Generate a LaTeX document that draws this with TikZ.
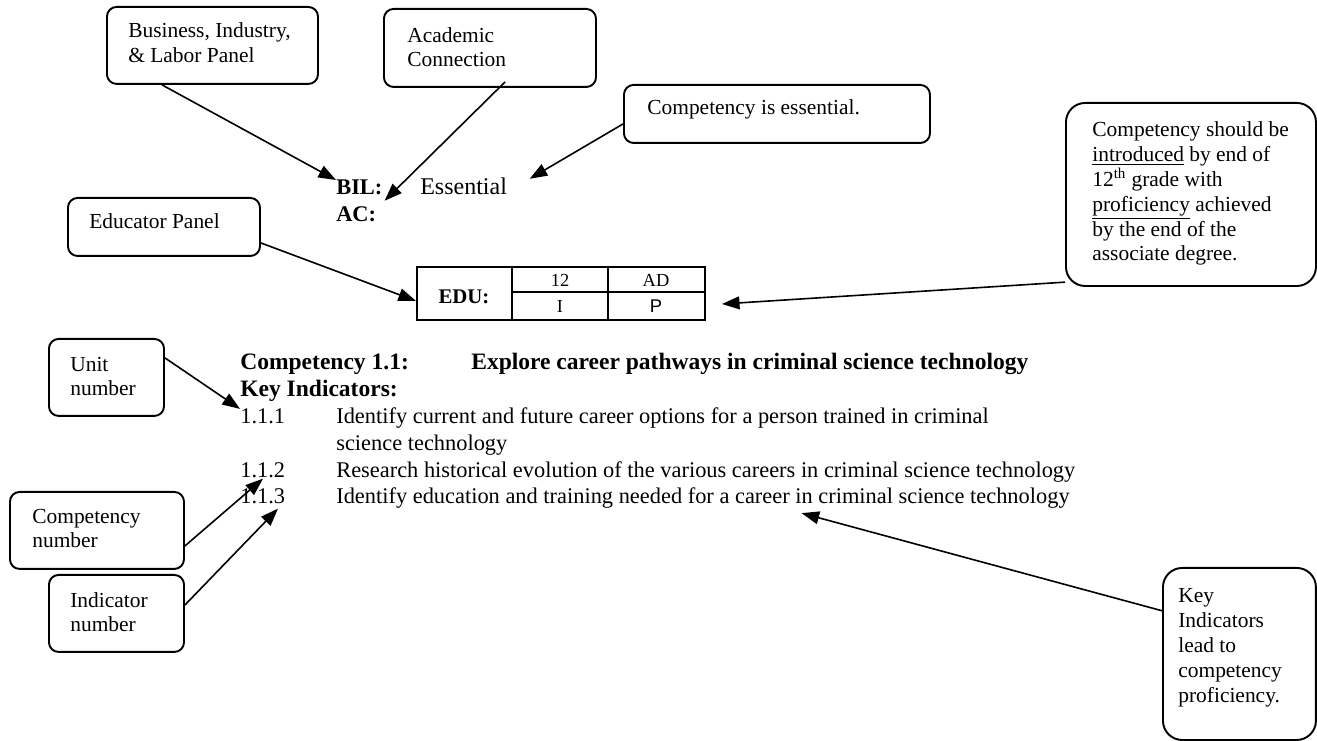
\documentclass[tikz,border=0pt]{standalone}
\usepackage{fontspec}
\setmainfont{Liberation Serif}
\newfontfamily\arialfont{Liberation Sans}
\usetikzlibrary{arrows.meta}

\tikzset{
  panel/.style={draw, line width=1.2pt, rounded corners=6pt, anchor=north west, inner sep=0pt},
  bigpanel/.style={panel, rounded corners=12pt},
  note/.style={anchor=base west, inner sep=0pt, align=left, font=\fontsize{13.4}{15.5}\selectfont},
  body/.style={anchor=base west, inner sep=0pt, font=\fontsize{14}{17}\selectfont},
  head/.style={body, font=\fontsize{14.7}{17}\selectfont\bfseries},
  rating/.style={body, font=\fontsize{14}{17}\selectfont\bfseries},
  cell/.style={anchor=base, inner sep=0pt, font=\fontsize{11.5}{13}\selectfont},
  pointer/.style={line width=1pt, -{Triangle[length=11pt, width=8pt]}},
}

\begin{document}
\begin{tikzpicture}[x=0.625pt, y=-0.625pt]
\useasboundingbox (0,0) rectangle (1317,741);

% callout boxes (text anchored on its last line)
\node[panel, minimum width=131.9pt, minimum height=48.1pt] (bilbox) at (106,6) {};
\node[note, font=\fontsize{13.4}{16.2}\selectfont] (biltext) at (128,63) {Business, Industry,\\ \& Labor Panel};
\node[panel, minimum width=132.5pt, minimum height=48.75pt] (acbox) at (383,8) {};
\node[note] (actext) at (407,67) {Academic\\ Connection};
\node[panel, minimum width=191.25pt, minimum height=36.25pt] (essbox) at (623,84) {};
\node[note] (esstext) at (647,115) {Competency is essential.};
\node[panel, minimum width=120pt, minimum height=36.25pt] (edubox) at (67,197) {};
\node[note] (edutext) at (89,229) {Educator Panel};
\node[bigpanel, minimum width=156.25pt, minimum height=114.4pt] (gradebox) at (1065,102) {};
\node[note] (gradetext) at (1092,261) {Competency should be\\ \underline{introduced} by end of\\ 12\textsuperscript{th} grade with\\ \underline{proficiency} achieved\\ by the end of the\\ associate degree.};
\node[panel, minimum width=71.9pt, minimum height=48.1pt] (unitbox) at (48,338) {};
\node[note] (unittext) at (70,396) {Unit\\ number};
\node[panel, minimum width=108.75pt, minimum height=48.1pt] (compbox) at (9,491) {};
\node[note] (comptext) at (32,548) {Competency\\ number};
\node[panel, minimum width=84.4pt, minimum height=48.1pt] (indbox) at (48,574) {};
\node[note] (indtext) at (70,632) {Indicator\\ number};
\node[bigpanel, minimum width=95.6pt, minimum height=107.5pt] (keybox) at (1162,567) {};
\node[note] (keytext) at (1178,702) {Key\\ Indicators\\ lead to\\ competency\\ proficiency.};

% ratings
\node[rating] (bil) at (336,195) {BIL:};
\node[note, font=\fontsize{15}{17}\selectfont] (ess) at (420,195) {Essential};
\node[rating] (ac) at (336,222) {AC:};

% EDU table
\node[draw, line width=1.2pt, anchor=north west, inner sep=0pt, minimum width=180pt, minimum height=33.1pt] (edutab) at (416,266) {};
\draw[line width=1.2pt] (512,266) -- (512,319) (608,266) -- (608,319) (512,292) -- (704,292);
\node[cell, font=\fontsize{13}{15}\selectfont\bfseries] (edulabel) at (464,304) {EDU:};
\node[cell] (grade) at (560,287) {12};
\node[cell] (degree) at (656,287) {AD};
\node[cell] (intro) at (560,313) {I};
\node[cell, font=\fontsize{11.5}{13}\selectfont\arialfont] (prof) at (656,313) {P};

% competency and indicators
\node[head] (comp) at (240,370) {Competency 1.1:};
\node[head] (compname) at (471,370) {Explore career pathways in criminal science technology};
\node[head] (keyhead) at (240,397) {Key Indicators:};
\node[body] (n111) at (240,424) {1.1.1};
\node[body] (k111) at (336,424) {Identify current and future career options for a person trained in criminal};
\node[body] (k111b) at (336,451) {science technology};
\node[body] (n112) at (240,478) {1.1.2};
\node[body] (k112) at (336,478) {Research historical evolution of the various careers in criminal science technology};
\node[body] (n113) at (240,504) {1.1.3};
\node[body] (k113) at (336,504) {Identify education and training needed for a career in criminal science technology};

% arrows
\draw[pointer] ([xshift=35pt]bilbox.south west) -- (bil.north west);
\draw[pointer] ([xshift=76.3pt, yshift=3.75pt]acbox.south west) -- ([xshift=1.2pt, yshift=-3.2pt]bil.south east);
\draw[pointer] ([yshift=-6.25pt]essbox.west) -- ([xshift=14pt, yshift=5pt]ess.east);
\draw[pointer] ([yshift=-10pt]edubox.east) -- ([yshift=-4.7pt]edutab.west);
\draw[pointer] ([yshift=3pt]gradebox.south west) -- ([xshift=10pt, yshift=-6.6pt]edutab.east);
\draw[pointer] ([yshift=12.2pt]unitbox.east) -- (n111.north west);
\draw[pointer] ([yshift=-9.7pt]compbox.east) -- ([xshift=14.4pt]n112.south west);
\draw[pointer] ([yshift=5.3pt]indbox.east) -- ([xshift=23.75pt, yshift=-2.5pt]n113.south west);
\draw[pointer] ([yshift=27pt]keybox.west) -- ([xshift=291pt, yshift=-2.5pt]k113.south west);
\end{tikzpicture}
\end{document}
